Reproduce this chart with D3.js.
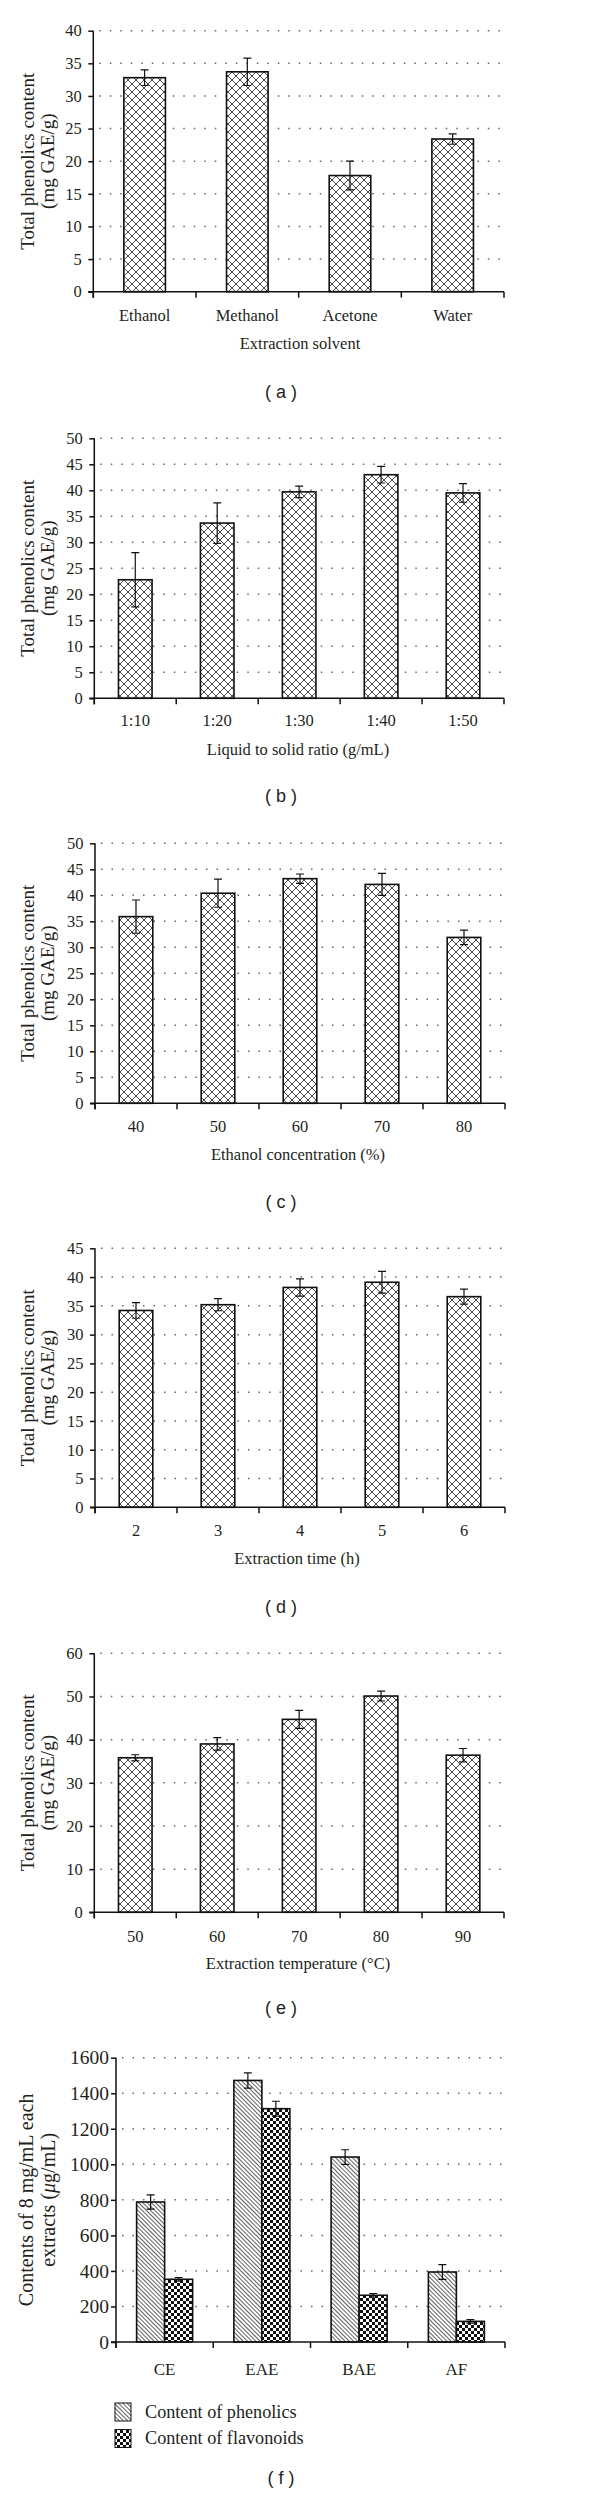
<!DOCTYPE html>
<html><head><meta charset="utf-8">
<script src="https://cdn.jsdelivr.net/npm/d3@7"></script>
<style>
html,body{margin:0;padding:0;background:#fff;}
svg{display:block;}
</style></head><body>
<svg id="chart" width="600" height="2502"></svg>
<script>
// ---------- DATA ----------
const solventCats = ["Ethanol", "Methanol", "Acetone", "Water"];
const solventVals = [32.8, 33.7, 17.8, 23.4];
const solventErr  = [1.2, 2.1, 2.2, 0.8];
const solventTicks = [0, 5, 10, 15, 20, 25, 30, 35, 40];

const ratioCats = ["1:10", "1:20", "1:30", "1:40", "1:50"];
const ratioVals = [22.8, 33.7, 39.7, 43.0, 39.5];
const ratioErr  = [5.2, 3.9, 1.1, 1.6, 1.8];
const ratioTicks = [0, 5, 10, 15, 20, 25, 30, 35, 40, 45, 50];

const concCats = ["40", "50", "60", "70", "80"];
const concVals = [35.9, 40.4, 43.2, 42.1, 31.9];
const concErr  = [3.2, 2.7, 0.9, 2.1, 1.4];
const concTicks = [0, 5, 10, 15, 20, 25, 30, 35, 40, 45, 50];

const timeCats = ["2", "3", "4", "5", "6"];
const timeVals = [34.2, 35.2, 38.2, 39.1, 36.6];
const timeErr  = [1.35, 1.05, 1.5, 1.9, 1.3];
const timeTicks = [0, 5, 10, 15, 20, 25, 30, 35, 40, 45];

const tempCats = ["50", "60", "70", "80", "90"];
const tempVals = [35.8, 39.0, 44.7, 50.1, 36.4];
const tempErr  = [0.7, 1.45, 2.1, 1.15, 1.55];
const tempTicks = [0, 10, 20, 30, 40, 50, 60];

const extractCats = ["CE", "EAE", "BAE", "AF"];
const phenolicsVals = [788, 1472, 1041, 394];
const phenolicsErr  = [40, 43, 41, 42];
const flavonoidVals = [353, 1313, 263, 116];
const flavonoidErr  = [10, 42, 10, 10];
const extractTicks = [0, 200, 400, 600, 800, 1000, 1200, 1400, 1600];
const legendLabels = ["Content of phenolics", "Content of flavonoids"];

// ---------- SETUP ----------
const SERIF = "'Liberation Serif', 'Times New Roman', serif";
const SANS = "'Liberation Sans', Arial, sans-serif";
const INK = "#231f20";
const svg = d3.select("#chart");
svg.append("rect").attr("width", 600).attr("height", 2502).attr("fill", "#fff");
const defs = svg.append("defs");

const cross = defs.append("pattern").attr("id", "cross").attr("patternUnits", "userSpaceOnUse")
  .attr("width", 8).attr("height", 8);
cross.append("rect").attr("width", 8).attr("height", 8).attr("fill", "#fff");
cross.append("path").attr("d", "M0,0L8,8M8,0L0,8").attr("stroke", "#333").attr("stroke-width", 0.9).attr("fill", "none");

const diag = defs.append("pattern").attr("id", "diag").attr("patternUnits", "userSpaceOnUse")
  .attr("width", 3).attr("height", 3).attr("patternTransform", "rotate(-45)");
diag.append("rect").attr("width", 3).attr("height", 3).attr("fill", "#fff");
diag.append("line").attr("x1", 1.5).attr("y1", -1).attr("x2", 1.5).attr("y2", 4)
  .attr("stroke", "#444").attr("stroke-width", 0.85);

const checker = defs.append("pattern").attr("id", "checker").attr("patternUnits", "userSpaceOnUse")
  .attr("width", 6).attr("height", 6);
checker.append("rect").attr("width", 6).attr("height", 6).attr("fill", "#fff");
checker.append("rect").attr("width", 3).attr("height", 3).attr("fill", "#111");
checker.append("rect").attr("x", 3).attr("y", 3).attr("width", 3).attr("height", 3).attr("fill", "#111");

function drawPanel(p) {
  const g = svg.append("g");
  const y = d3.scaleLinear().domain([0, p.ticks[p.ticks.length - 1]]).range([p.bottom, p.top]);
  const x = d3.scaleBand().domain(p.cats).range([p.left, p.right]).padding(0);
  const step = x.step();

  // gridlines
  g.selectAll("line.grid").data(p.ticks.filter(t => t > 0)).join("line")
    .attr("x1", p.left + 6).attr("x2", p.right)
    .attr("y1", d => y(d)).attr("y2", d => y(d))
    .attr("stroke", "#666").attr("stroke-width", 1.5).attr("stroke-dasharray", "1.5 9");

  // bars
  const nS = p.series.length;
  const bw = step * p.barFrac;
  const groupW = bw * nS;
  p.series.forEach((s, si) => {
    const data = p.cats.map((c, i) => ({ c, v: s.vals[i], e: s.err[i] }));
    const bx = d => x(d.c) + step / 2 - groupW / 2 + si * bw;
    g.selectAll(null).data(data).join("rect")
      .attr("x", bx).attr("y", d => y(d.v))
      .attr("width", bw).attr("height", d => y(0) - y(d.v))
      .attr("fill", `url(#${s.pattern})`).attr("stroke", "#111").attr("stroke-width", 1.6);
    const cx = d => bx(d) + bw / 2;
    g.selectAll(null).data(data).join("path")
      .attr("d", d => `M${cx(d)},${y(d.v + d.e)}V${y(d.v - d.e)}M${cx(d) - 4},${y(d.v + d.e)}H${cx(d) + 4}M${cx(d) - 4},${y(d.v - d.e)}H${cx(d) + 4}`)
      .attr("stroke", "#111").attr("stroke-width", 1.2).attr("fill", "none");
  });

  // y axis
  const ya = g.append("g").attr("transform", `translate(${p.left},0)`)
    .call(d3.axisLeft(y).tickValues(p.ticks).tickFormat(d3.format("d")).tickSize(5).tickPadding(p.yPad).tickSizeOuter(0));
  ya.select(".domain").remove();
  ya.selectAll(".tick line").attr("stroke", "#111").attr("stroke-width", 1.5);
  ya.selectAll(".tick text").attr("font-family", SERIF).attr("font-size", p.yFs).attr("fill", INK);
  g.append("line").attr("x1", p.left).attr("x2", p.left).attr("y1", p.top).attr("y2", p.bottom + 6)
    .attr("stroke", "#111").attr("stroke-width", 1.5);

  // x axis
  g.append("line").attr("x1", p.left - 5).attr("x2", p.right).attr("y1", p.bottom).attr("y2", p.bottom)
    .attr("stroke", "#111").attr("stroke-width", 1.5);
  g.selectAll(null).data(d3.range(p.cats.length + 1)).join("line")
    .attr("x1", i => p.left + i * step).attr("x2", i => p.left + i * step)
    .attr("y1", p.bottom).attr("y2", p.bottom + 6)
    .attr("stroke", "#111").attr("stroke-width", 1.5);
  const xa = g.append("g").attr("transform", `translate(0,${p.bottom})`)
    .call(d3.axisBottom(x).tickSize(0).tickPadding(p.xLabOff - 0.71 * p.xFs));
  xa.select(".domain").remove();
  xa.selectAll(".tick text").attr("font-family", SERIF).attr("font-size", p.xFs).attr("fill", INK);

  // x title
  if (p.xTitle) {
    g.append("text").attr("x", p.xTitleX).attr("y", p.bottom + 57)
      .attr("text-anchor", "middle").attr("font-family", SERIF).attr("font-size", 16.5).attr("fill", INK)
      .text(p.xTitle);
  }

  // y title (two lines)
  const cy = (p.top + p.bottom) / 2;
  p.yTitle.forEach((line, i) => {
    const t = g.append("text").attr("transform", `translate(${p.yTitleX[i]},${cy}) rotate(-90)`)
      .attr("text-anchor", "middle").attr("font-family", SERIF).attr("font-size", p.yTitleFs).attr("fill", INK);
    if (Array.isArray(line)) {
      line.forEach(part => t.append("tspan").attr("font-style", part.italic ? "italic" : null).text(part.t));
    } else t.text(line);
  });

  // panel letter
  svg.append("text").attr("x", 281).attr("y", p.letterY).attr("text-anchor", "middle")
    .attr("font-family", SANS).attr("font-size", 18).attr("fill", INK)
    .attr("xml:space", "preserve").text(p.letter);
}

const yTitleStd = ["Total phenolics content", "(mg GAE/g)"];

drawPanel({ cats: solventCats, ticks: solventTicks, series: [{ vals: solventVals, err: solventErr, pattern: "cross" }],
  left: 93.3, right: 504, top: 30.7, bottom: 291.7, barFrac: 0.405, yPad: 6.5, yFs: 16.5, xFs: 16.5, xLabOff: 29,
  xTitle: "Extraction solvent", xTitleX: 300, yTitle: yTitleStd, yTitleX: [34, 54], yTitleFs: 19,
  letter: "( a )", letterY: 398 });

drawPanel({ cats: ratioCats, ticks: ratioTicks, series: [{ vals: ratioVals, err: ratioErr, pattern: "cross" }],
  left: 94.3, right: 504, top: 438.3, bottom: 698.3, barFrac: 0.41, yPad: 6.5, yFs: 16.5, xFs: 16.5, xLabOff: 27.5,
  xTitle: "Liquid to solid ratio (g/mL)", xTitleX: 298, yTitle: yTitleStd, yTitleX: [34, 54], yTitleFs: 19,
  letter: "( b )", letterY: 802 });

drawPanel({ cats: concCats, ticks: concTicks, series: [{ vals: concVals, err: concErr, pattern: "cross" }],
  left: 95, right: 505, top: 843.3, bottom: 1103.3, barFrac: 0.41, yPad: 6.5, yFs: 16.5, xFs: 16.5, xLabOff: 28.4,
  xTitle: "Ethanol concentration (%)", xTitleX: 298, yTitle: yTitleStd, yTitleX: [34, 54], yTitleFs: 19,
  letter: "( c )", letterY: 1208 });

drawPanel({ cats: timeCats, ticks: timeTicks, series: [{ vals: timeVals, err: timeErr, pattern: "cross" }],
  left: 95, right: 505, top: 1248.3, bottom: 1507.3, barFrac: 0.41, yPad: 6.5, yFs: 16.5, xFs: 16.5, xLabOff: 28.7,
  xTitle: "Extraction time (h)", xTitleX: 297, yTitle: yTitleStd, yTitleX: [34, 54], yTitleFs: 19,
  letter: "( d )", letterY: 1613 });

drawPanel({ cats: tempCats, ticks: tempTicks, series: [{ vals: tempVals, err: tempErr, pattern: "cross" }],
  left: 94.3, right: 504, top: 1653.3, bottom: 1912.3, barFrac: 0.41, yPad: 6.5, yFs: 16.5, xFs: 16.5, xLabOff: 29.4,
  xTitle: "Extraction temperature (\u00B0C)", xTitleX: 298, yTitle: yTitleStd, yTitleX: [34, 54], yTitleFs: 19,
  letter: "( e )", letterY: 2014 });

drawPanel({ cats: extractCats, ticks: extractTicks,
  series: [{ vals: phenolicsVals, err: phenolicsErr, pattern: "diag" }, { vals: flavonoidVals, err: flavonoidErr, pattern: "checker" }],
  left: 116, right: 505, top: 2057.7, bottom: 2342, barFrac: 0.288, yPad: 2, yFs: 19.5, xFs: 17, xLabOff: 33,
  xTitle: null, yTitle: ["Contents of 8 mg/mL each", [{ t: "extracts (" }, { t: "\u03BC", italic: true }, { t: "g/mL)" }]],
  yTitleX: [33, 55], yTitleFs: 20, letter: "( f )", letterY: 2484 });

// legend for (f)
const legendPatterns = ["diag", "checker"];
const lg = svg.append("g");
lg.selectAll("rect").data(legendLabels).join("rect")
  .attr("x", 115).attr("y", (d, i) => 2403 + i * 26.5).attr("width", 16).attr("height", 18)
  .attr("fill", (d, i) => `url(#${legendPatterns[i]})`).attr("stroke", "#111").attr("stroke-width", 1);
lg.selectAll("text").data(legendLabels).join("text")
  .attr("x", 145).attr("y", (d, i) => 2418 + i * 25.5)
  .attr("font-family", SERIF).attr("font-size", 18.2).attr("fill", INK).text(d => d);
</script>
</body></html>
